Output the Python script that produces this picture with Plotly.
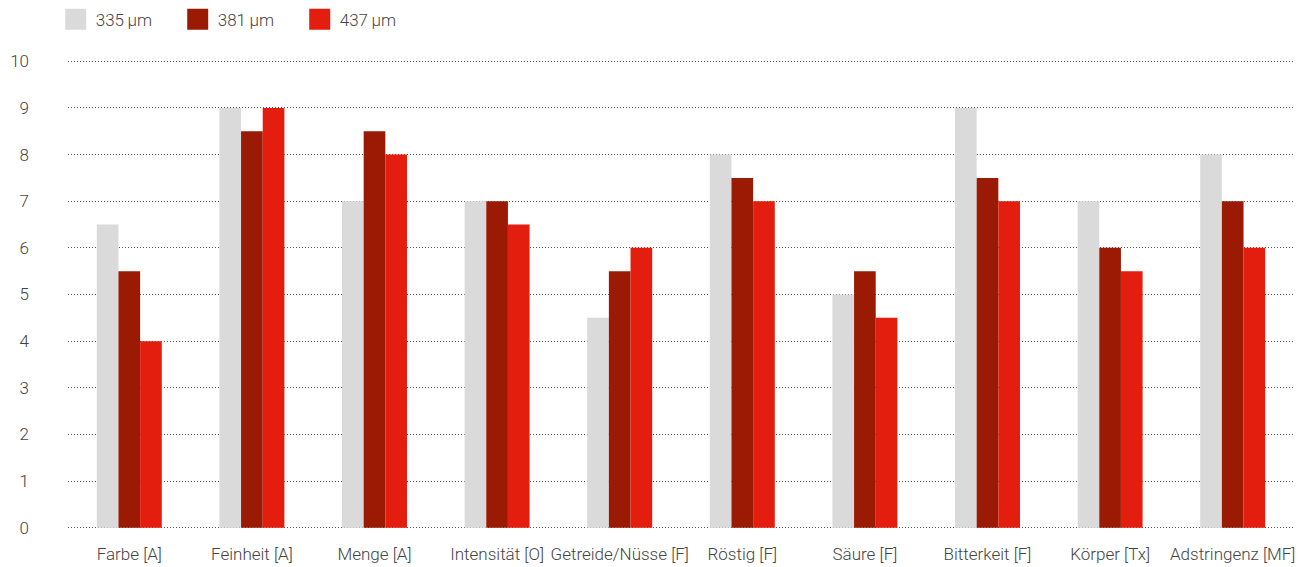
import plotly.graph_objects as go

categories = ["Farbe [A]", "Feinheit [A]", "Menge [A]", "Intensität [O]", "Getreide/Nüsse [F]",
              "Röstig [F]", "Säure [F]", "Bitterkeit [F]", "Körper [Tx]", "Adstringenz [MF]"]
series_names = ["335\u2009µm", "381\u2009µm", "437\u2009µm"]
values_335 = [6.5, 9, 7, 7, 4.5, 8, 5, 9, 7, 8]
values_381 = [5.5, 8.5, 8.5, 7, 5.5, 7.5, 5.5, 7.5, 6, 7]
values_437 = [4, 9, 8, 6.5, 6, 7, 4.5, 7, 5.5, 6]
y_ticks = [0, 1, 2, 3, 4, 5, 6, 7, 8, 9, 10]

colors = ["#d9dad9", "#9b1a04", "#e41e0f"]
font_family = "Roboto, Liberation Sans, sans-serif"
text_color = "#444444"
tick_font = dict(family=font_family, size=17, color=text_color, weight=300)

fig = go.Figure()
for name, vals, col in zip(series_names, [values_335, values_381, values_437], colors):
    fig.add_trace(go.Bar(x=categories, y=vals, name=name, marker_color=col,
                         marker_line_width=0, showlegend=False, legendgroup=name))
    # larger square legend swatch
    fig.add_trace(go.Scatter(x=[None], y=[None], mode="markers", name=name, legendgroup=name,
                             marker=dict(symbol="square", size=16, color=col,
                                         line=dict(color=col, width=5)),
                             showlegend=True))

# small padding on the value range keeps the 0 and 10 grid lines visible
y_pad = 0.05
fig.update_layout(
    width=1311, height=567,
    margin=dict(l=68, r=17, t=59, b=37),
    paper_bgcolor="white", plot_bgcolor="white",
    barmode="group", bargap=0.47, bargroupgap=0,
    font=tick_font,
    legend=dict(orientation="h", xref="container", yref="container", x=0.0425, y=0.997,
                xanchor="left", yanchor="top", entrywidth=77, entrywidthmode="pixels",
                font=tick_font, itemsizing="trace"),
    xaxis=dict(showgrid=False, showline=False, ticks="", tickfont=tick_font,
               ticklabelstandoff=12, automargin=False),
    yaxis=dict(range=[-y_pad, 10 + y_pad], tickvals=y_ticks, showgrid=True,
               gridcolor="#555555", griddash="1px,2px", gridwidth=1, zeroline=False,
               showline=False, ticks="", ticklabelstandoff=38, tickfont=tick_font,
               automargin=False),
)

fig.write_html("out.html")
